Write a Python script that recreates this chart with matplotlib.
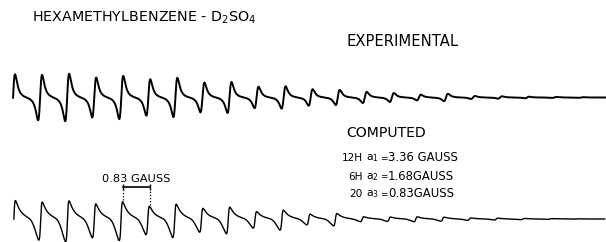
import numpy as np
import matplotlib.pyplot as plt

plt.rcParams['font.family'] = ['DejaVu Sans']
plt.rcParams['mathtext.default'] = 'regular'

# line spacing (gauss) and the height of each hyperfine line
spacing = 0.83
exp_height = [23.4, 22.8, 23.8, 20.0, 21.7, 18.3, 19.7, 15.0, 15.5, 10.8, 11.2,
              8.3, 7.6, 5.6, 4.5, 2.9, 3.7, 1.5, 1.2, 0.8, 0.5, 0.3]
comp_height = [21.0, 19.1, 20.5, 17.0, 19.5, 14.2, 16.7, 12.0, 13.3, 8.3, 10.0,
               5.4, 6.2, 2.5, 2.2, 2.5, 2.0, 1.2, 0.9, 0.6, 0.4, 0.2]

title = 'HEXAMETHYLBENZENE - D$_2$SO$_4$'
nuclei = ['12H', '6H', '20']
coupling_names = ['a$_1$', 'a$_2$', 'a$_3$']
coupling_values = ['3.36 GAUSS', '1.68GAUSS', '0.83GAUSS']
scale_label = '0.83 GAUSS'

W, H = 606, 242


def deriv_lorentz(b, centre, width):
    u = (b - centre) / width
    return u / (1 + u**2)**2 / 0.3248


def computed_line(b, centre, tail_r=0.17, tail_l=0.20, rise=0.031):
    u = b - centre
    env = np.where(u > 0, np.exp(-np.clip(u, 0, None) / tail_r),
                   np.exp(-(u / tail_l)**2))
    return np.tanh(u / rise) * env


centres = spacing * np.arange(len(exp_height))

fig = plt.figure(figsize=(W / 100, H / 100), dpi=100)

# experimental trace
ax1 = fig.add_axes([0, 1 - 135 / H, 1, 80 / H])
b1 = np.linspace(0, 18.19, 6000)
y1 = sum(h * deriv_lorentz(b1, c, 0.106) for h, c in zip(exp_height, centres))
ax1.plot(b1, y1, color='black', lw=1.4, clip_on=False)
ax1.set_xlim(-0.40, 18.19)
ax1.set_ylim(-37.5, 42.5)
ax1.axis('off')

# computed trace
ax2 = fig.add_axes([0, 0, 1, 57 / H])
b2 = np.linspace(0, 18.30, 6000)
grid = np.linspace(-1, 1, 4001)
ref = computed_line(grid, 0)
norm = (ref.max() - ref.min()) / 2
y2 = sum(h * computed_line(b2, c) / norm for h, c in zip(comp_height, centres))
ax2.plot(b2, y2, color='black', lw=1.0, clip_on=False)
ax2.set_xlim(-0.43, 18.34)
ax2.set_ylim(-23, 34)
ax2.axis('off')

# 0.83 gauss scale bracket between lines 4 and 5
x0, x1 = centres[4] + 0.06, centres[5] + 0.06
ax2.plot([x0, x1], [31.7, 31.7], color='black', lw=1.2, clip_on=False)
ax2.vlines([x0, x1], 28.7, 34.7, color='black', lw=1.0, clip_on=False)
ax2.vlines(x0, comp_height[4], 28.7, color='black', lw=0.9, linestyles=(0, (1, 1.5)))
ax2.vlines(x1, comp_height[5], 28.7, color='black', lw=0.9, linestyles=(0, (1, 1.5)))
ax2.text((x0 + x1) / 2, 40.5, scale_label, ha='center', va='center', fontsize=8.2,
         clip_on=False)

fig.text(31.5 / W, 1 - 21.5 / H, title, ha='left', va='baseline', fontsize=10.3)
fig.text(346.5 / W, 1 - 41.7 / H, 'EXPERIMENTAL', ha='left', va='center', fontsize=10.6)
fig.text(346.5 / W, 1 - 133.3 / H, 'COMPUTED', ha='left', va='center', fontsize=10.1)

baselines = [160.7, 179.5, 196.7]
for n, name, val, yb in zip(nuclei, coupling_names, coupling_values, baselines):
    fig.text(363 / W, 1 - yb / H, n, ha='right', va='baseline', fontsize=7.6)
    fig.text(366 / W, 1 - yb / H, name, ha='left', va='baseline', fontsize=7.8)
    fig.text(380 / W, 1 - yb / H, '=', ha='left', va='baseline', fontsize=6.5)
    fig.text(388 / W, 1 - yb / H, val, ha='left', va='baseline', fontsize=8.4)

fig.savefig('out.png', dpi=100, facecolor='white')
